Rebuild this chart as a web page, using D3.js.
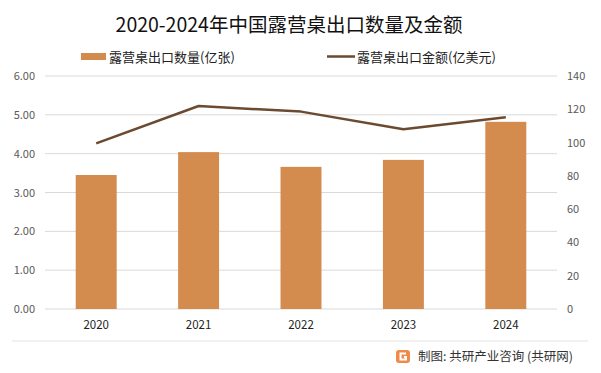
<!DOCTYPE html>
<html>
<head>
<meta charset="utf-8">
<script src="https://cdn.jsdelivr.net/npm/d3@7"></script>
<style>
  body { margin: 0; background: #fff; }
  text { font-family: "Noto Sans CJK SC", "Microsoft YaHei", sans-serif; }
</style>
</head>
<body>
<svg id="chart" width="601" height="373"></svg>
<script>
// chart data
const years = ['2020', '2021', '2022', '2023', '2024'];
const quantity = [3.45, 4.04, 3.66, 3.84, 4.82];   // 亿张
const amount = [99.5, 122, 118.6, 108, 115.2];      // 亿美元
const leftTicks = [0, 1, 2, 3, 4, 5, 6];
const rightTicks = [0, 20, 40, 60, 80, 100, 120, 140];

const svg = d3.select('#chart');
const margin = {t: 76, r: 44, b: 64, l: 45};
const width = 601, height = 373;

const x = d3.scaleBand().domain(years)
    .range([margin.l, width - margin.r])
    .paddingInner(0.6).paddingOuter(0.3);
const yL = d3.scaleLinear().domain([0, 6]).range([height - margin.b, margin.t]);
const yR = d3.scaleLinear().domain([0, 140]).range([height - margin.b, margin.t]);

// title
svg.append('text')
    .attr('x', 289).attr('y', 32)
    .attr('text-anchor', 'middle')
    .attr('font-size', 19.5)
    .attr('fill', '#111')
    .text('2020-2024年中国露营桌出口数量及金额');

// legend
svg.append('rect').attr('x', 81).attr('y', 53).attr('width', 25).attr('height', 7).attr('fill', '#D38B4E');
svg.append('text').attr('x', 109).attr('y', 61.5).attr('font-size', 13).attr('fill', '#222').text('露营桌出口数量(亿张)');
svg.append('line').attr('x1', 327).attr('x2', 355).attr('y1', 56.5).attr('y2', 56.5)
    .attr('stroke', '#6B4A30').attr('stroke-width', 2.5);
svg.append('text').attr('x', 357).attr('y', 61.5).attr('font-size', 13).attr('fill', '#222').text('露营桌出口金额(亿美元)');

// gridlines
svg.append('g').selectAll('line').data(leftTicks).join('line')
    .attr('x1', margin.l).attr('x2', width - margin.r)
    .attr('y1', d => yL(d)).attr('y2', d => yL(d))
    .attr('stroke', '#d9d9d9').attr('stroke-width', 1);

// left axis
const axL = svg.append('g').attr('transform', `translate(${margin.l},0)`)
    .call(d3.axisLeft(yL).tickValues(leftTicks).tickFormat(d3.format('.2f')).tickSize(0).tickPadding(10));
axL.select('.domain').remove();
axL.selectAll('text').attr('font-size', 11).attr('fill', '#595959').attr('font-family', 'Lato, "Noto Sans", sans-serif');

// right axis
const axR = svg.append('g').attr('transform', `translate(${width - margin.r},0)`)
    .call(d3.axisRight(yR).tickValues(rightTicks).tickSize(0).tickPadding(10));
axR.select('.domain').remove();
axR.selectAll('text').attr('font-size', 11).attr('fill', '#595959').attr('font-family', 'Lato, "Noto Sans", sans-serif');

// bars
svg.append('g').selectAll('rect').data(years).join('rect')
    .attr('x', d => x(d))
    .attr('y', (d, i) => yL(quantity[i]))
    .attr('width', x.bandwidth())
    .attr('height', (d, i) => yL(0) - yL(quantity[i]))
    .attr('fill', '#D38B4E');

// line
const line = d3.line()
    .x((d, i) => x(years[i]) + x.bandwidth() / 2)
    .y(d => yR(d));
svg.append('path').datum(amount)
    .attr('d', line)
    .attr('fill', 'none')
    .attr('stroke', '#6B4A30')
    .attr('stroke-width', 2.5)
    .attr('stroke-linejoin', 'round');

// x axis
const axX = svg.append('g').attr('transform', `translate(0,${yL(0)})`)
    .call(d3.axisBottom(x).tickSize(0).tickPadding(12));
axX.select('.domain').remove();
axX.selectAll('text').attr('font-size', 11.5).attr('fill', '#222').attr('font-family', 'Lato, "Noto Sans", sans-serif');

// footer
svg.append('line').attr('x1', 12).attr('x2', 588).attr('y1', 341).attr('y2', 341)
    .attr('stroke', '#e3e3e3').attr('stroke-width', 1);
const logo = svg.append('g').attr('transform', 'translate(396,350)');
logo.append('rect').attr('width', 14).attr('height', 13).attr('rx', 3).attr('fill', '#F08A4B');
logo.append('path').attr('d', 'M10,3.5 L4.5,3.5 L4.5,9.5 L10,9.5 L10,7 L8,7')
    .attr('fill', 'none').attr('stroke', '#fff').attr('stroke-width', 2);
svg.append('text').attr('x', 418).attr('y', 361).attr('font-size', 12.5).attr('fill', '#333')
    .text('制图: 共研产业咨询 (共研网)');
</script>
</body>
</html>
